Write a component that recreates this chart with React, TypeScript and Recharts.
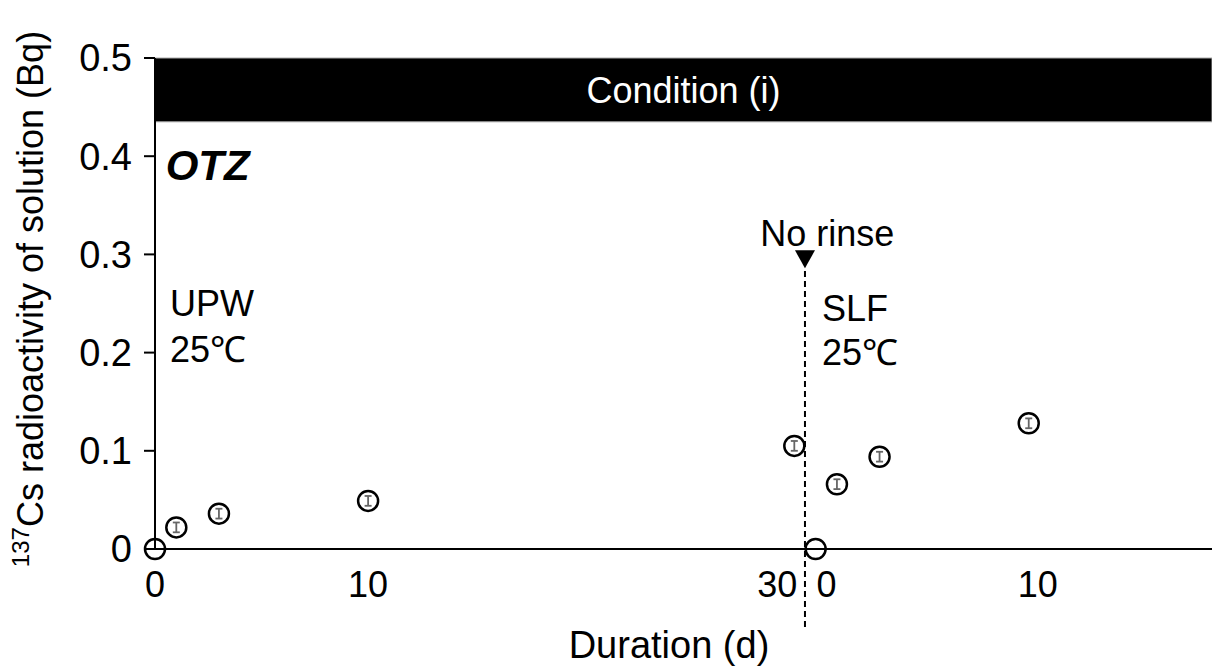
import {
  ComposedChart,
  ErrorBar,
  ReferenceArea,
  ReferenceDot,
  ReferenceLine,
  Scatter,
  XAxis,
  YAxis,
} from "recharts";

if (typeof document !== "undefined") document.body.style.margin = "0";

// UPW phase (days 0..30)
const upwDays = [0, 1, 3, 10, 30];
const upwValues = [0, 0.022, 0.036, 0.049, 0.105];
const upwErrors = [0, 0.005, 0.005, 0.005, 0.005];

// SLF phase, restarted at day 0 after the break
const slfDays = [0, 1, 3, 10];
const slfValues = [0, 0.066, 0.094, 0.128];
const slfErrors = [0, 0.005, 0.005, 0.005];

const SLF_START = 31; // axis position of SLF day 0
const RINSE_AT = 30.5;

const xTicks = [0, 10, 30, 31, 41];
const xTickLabels = ["0", "10", "30", "0", "10"];
const xTickShift = [0, 0, -17, 11, 9];
const yTicks = [0, 0.1, 0.2, 0.3, 0.4, 0.5];

const FONT = "'Liberation Sans', Arial, sans-serif";
const FS = 36;

const upwData = upwDays.map((d, i) => ({ x: d, y: upwValues[i], err: upwErrors[i] }));
const slfData = slfDays.map((d, i) => ({ x: SLF_START + d, y: slfValues[i], err: slfErrors[i] }));

const Ring = (p: any) => (
  <circle cx={p.cx} cy={p.cy} r={10} fill="none" stroke="#000" strokeWidth={2.5} />
);

const XTick = ({ x, y, payload }: any) => {
  const i = xTicks.indexOf(payload.value);
  return (
    <text x={x + (xTickShift[i] ?? 0)} y={y} dy="0.71em" textAnchor="middle" fontSize={FS} fill="#000">
      {xTickLabels[i]}
    </text>
  );
};

const note = (text: string, extra: any = {}) => (p: any) => (
  <text x={p.cx} y={p.cy} dominantBaseline="central" fontSize={FS} fill="#000" {...extra}>
    {text}
  </text>
);

const Arrow = (p: any) => (
  <path d={`M${p.cx - 10},${p.cy - 9} L${p.cx + 10},${p.cy - 9} L${p.cx},${p.cy + 9} Z`} fill="#000" />
);

export default function App() {
  return (
    <ComposedChart
      width={1212}
      height={671}
      margin={{ top: 58, right: 0, bottom: 0, left: 0 }}
      style={{ fontFamily: FONT }}
    >
      <ReferenceArea y1={0.435} y2={0.5} fill="#000" fillOpacity={1} stroke="#aaa" strokeWidth={1} ifOverflow="visible"
        label={{ value: "Condition (i)", position: "center", fill: "#fff", fontSize: FS }} />
      <XAxis
        type="number"
        dataKey="x"
        domain={[0, 49.6]}
        ticks={xTicks}
        interval={0}
        height={122}
        tickLine={false}
        tickSize={0}
        tickMargin={22}
        tick={<XTick />}
        axisLine={{ stroke: "#000", strokeWidth: 2 }}
        label={{
          content: () => (
            <text x={669} y={645} textAnchor="middle" dominantBaseline="central" fontSize={38} fill="#000">
              Duration (d)
            </text>
          ),
        }}
      />
      <YAxis
        type="number"
        domain={[0, 0.5]}
        ticks={yTicks}
        width={155}
        tickSize={11}
        tickMargin={12}
        tick={{ fontSize: 38, fill: "#000" }}
        tickLine={{ stroke: "#000", strokeWidth: 2 }}
        axisLine={{ stroke: "#000", strokeWidth: 2 }}
        tickFormatter={(v: number) => (v === 0 ? "0" : v.toFixed(1))}
        label={{
          content: () => (
            <text x={30} y={299} transform="rotate(-90 30 299)" textAnchor="middle" dominantBaseline="central" fontSize={FS} fill="#000">
              <tspan fontSize={24} dy={-10}>137</tspan>
              <tspan dy={10}>Cs radioactivity of solution (Bq)</tspan>
            </text>
          ),
        }}
      />
      <ReferenceLine
        segment={[{ x: RINSE_AT, y: 0.283 }, { x: RINSE_AT, y: -0.083 }]}
        stroke="#000"
        strokeWidth={2}
        strokeDasharray="6 4"
        ifOverflow="visible"
      />
      <ReferenceDot x={RINSE_AT} y={0.295} ifOverflow="visible" shape={Arrow} />
      <ReferenceDot x={28.4} y={0.321} ifOverflow="visible" shape={note("No rinse")} />
      <ReferenceDot x={0.5} y={0.391} ifOverflow="visible" shape={note("OTZ", { fontWeight: "bold", fontStyle: "italic", fontSize: 42 })} />
      <ReferenceDot x={0.7} y={0.25} ifOverflow="visible" shape={note("UPW")} />
      <ReferenceDot x={0.7} y={0.203} ifOverflow="visible" shape={note("25℃")} />
      <ReferenceDot x={31.3} y={0.245} ifOverflow="visible" shape={note("SLF")} />
      <ReferenceDot x={31.3} y={0.2} ifOverflow="visible" shape={note("25℃")} />
      <Scatter data={upwData} dataKey="y" shape={Ring} isAnimationActive={false}>
        <ErrorBar dataKey="err" direction="y" width={3.5} stroke="#666" strokeWidth={1.8} />
      </Scatter>
      <Scatter data={slfData} dataKey="y" shape={Ring} isAnimationActive={false}>
        <ErrorBar dataKey="err" direction="y" width={3.5} stroke="#666" strokeWidth={1.8} />
      </Scatter>
    </ComposedChart>
  );
}
